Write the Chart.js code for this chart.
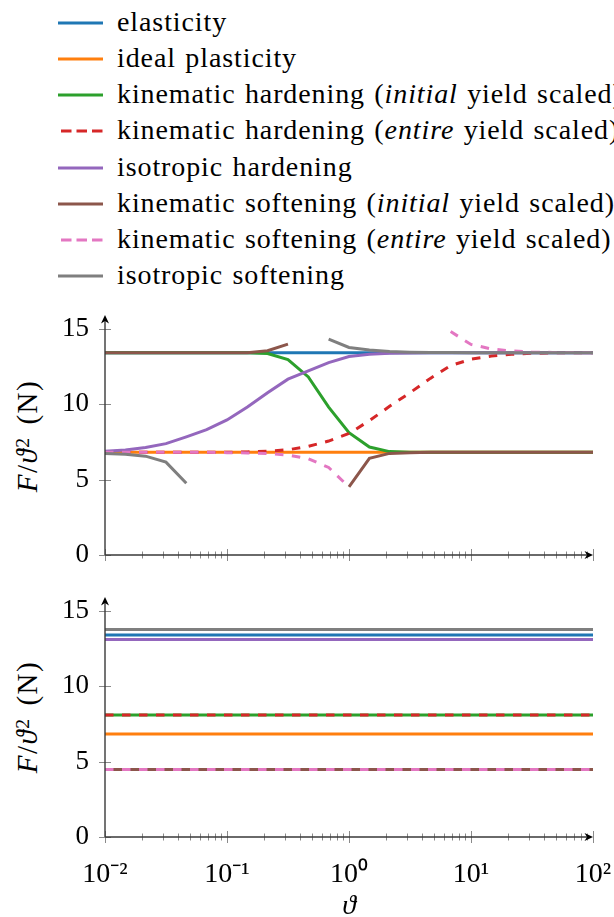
<!DOCTYPE html>
<html>
<head>
<meta charset="utf-8">
<script src="https://cdn.jsdelivr.net/npm/chart.js@4.4.1/dist/chart.umd.min.js"></script>
<style>
  html, body { margin: 0; padding: 0; background: #fff; }
  body { width: 614px; height: 917px; overflow: hidden; position: relative; color: #000; }
  .entry { position: absolute; left: 0; width: 614px; height: 36px; white-space: nowrap; }
  .entry svg { position: absolute; left: 58px; top: 15px; }
  .entry span { position: absolute; left: 117px; top: -1px; line-height: 36px; letter-spacing: 0.9px; word-spacing: 1.5px; }
  .ytitle { position: absolute; left: 27px; line-height: 1; white-space: nowrap; letter-spacing: 1.5px; word-spacing: 3px;
    transform: translate(-50%, -50%) rotate(-90deg); }
  .ytitle sup { font-size: 0.68em; vertical-align: 0; position: relative; top: -0.42em; }
  canvas { position: absolute; left: 0; }
</style>
</head>
<body>
<div id="legend"></div>
<div class="ytitle" style="top:436px"><i>F</i>/<i>ϑ</i><sup>2</sup> (N)</div>
<div class="ytitle" style="top:717px"><i>F</i>/<i>ϑ</i><sup>2</sup> (N)</div>
<canvas id="topChart" width="614" height="270" style="top:300px"></canvas>
<canvas id="bottomChart" width="614" height="337" style="top:580px"></canvas>
<script>
// sample points of the load parameter (log spaced)
const theta = [0.01, 0.0147, 0.0215, 0.0316, 0.0464, 0.0681, 0.1, 0.147, 0.215, 0.316, 0.464, 0.681,
  1, 1.47, 2.15, 3.16, 4.64, 6.81, 10, 14.7, 21.5, 31.6, 46.4, 68.1, 100];

// upper plot
const elasticity = [13.4, 13.4, 13.4, 13.4, 13.4, 13.4, 13.4, 13.4, 13.4, 13.4, 13.4, 13.4, 13.4,
  13.4, 13.4, 13.4, 13.4, 13.4, 13.4, 13.4, 13.4, 13.4, 13.4, 13.4, 13.4];
const idealPlasticity = [6.8, 6.8, 6.8, 6.8, 6.8, 6.8, 6.8, 6.8, 6.8, 6.8, 6.8, 6.8, 6.8,
  6.8, 6.8, 6.8, 6.8, 6.8, 6.8, 6.8, 6.8, 6.8, 6.8, 6.8, 6.8];
const kinHardInitial = [13.4, 13.4, 13.4, 13.4, 13.4, 13.4, 13.4, 13.4, 13.35, 12.95, 11.8, 9.8, 8.1,
  7.15, 6.85, 6.8, 6.8, 6.8, 6.8, 6.8, 6.8, 6.8, 6.8, 6.8, 6.8];
const kinHardEntire = [6.8, 6.8, 6.8, 6.8, 6.8, 6.8, 6.81, 6.83, 6.88, 6.97, 7.2, 7.55, 8.05,
  8.9, 9.85, 10.75, 11.7, 12.55, 12.97, 13.18, 13.3, 13.36, 13.39, 13.4, 13.4];
const isoHard = [6.88, 6.95, 7.12, 7.38, 7.83, 8.3, 8.95, 9.8, 10.75, 11.65, 12.2, 12.75, 13.15,
  13.3, 13.37, 13.39, 13.4, 13.4, 13.4, 13.4, 13.4, 13.4, 13.4, 13.4, 13.4];
const kinSoftInitial = [13.4, 13.4, 13.4, 13.4, 13.4, 13.4, 13.4, 13.4, 13.53, 13.97, null, null, 4.52,
  6.4, 6.73, 6.78, 6.8, 6.8, 6.8, 6.8, 6.8, 6.8, 6.8, 6.8, 6.8];
const kinSoftEntire = [6.8, 6.8, 6.8, 6.8, 6.8, 6.8, 6.78, 6.76, 6.72, 6.62, 6.38, 5.8, 4.5,
  null, null, null, null, 14.8, 13.95, 13.65, 13.52, 13.45, 13.42, 13.41, 13.4];
const isoSoft = [6.72, 6.68, 6.55, 6.15, 4.75, null, null, null, null, null, null, 14.3, 13.75,
  13.58, 13.48, 13.44, 13.42, 13.41, 13.4, 13.4, 13.4, 13.4, 13.4, 13.4, 13.4];

// lower plot (constant over the whole range)
const thetaEnds = [0.01, 100];
const elasticityB = [13.38, 13.38];
const idealPlasticityB = [6.82, 6.82];
const kinHardInitialB = [8.08, 8.08];
const kinHardEntireB = [8.08, 8.08];
const isoHardB = [13.09, 13.09];
const kinSoftInitialB = [4.48, 4.48];
const kinSoftEntireB = [4.48, 4.48];
const isoSoftB = [13.75, 13.75];

const seriesNames = ['elasticity', 'ideal plasticity', 'kinematic hardening (<i>initial</i> yield scaled)',
  'kinematic hardening (<i>entire</i> yield scaled)', 'isotropic hardening',
  'kinematic softening (<i>initial</i> yield scaled)', 'kinematic softening (<i>entire</i> yield scaled)',
  'isotropic softening'];
const seriesColors = ['#1f77b4', '#ff7f0e', '#2ca02c', '#d62728', '#9467bd', '#8c564b', '#e377c2', '#7f7f7f'];
const seriesDashed = [false, false, false, true, false, false, true, false];

const xTickValues = [0.01, 0.02, 0.03, 0.04, 0.05, 0.06, 0.07, 0.08, 0.09,
  0.1, 0.2, 0.3, 0.4, 0.5, 0.6, 0.7, 0.8, 0.9,
  1, 2, 3, 4, 5, 6, 7, 8, 9,
  10, 20, 30, 40, 50, 60, 70, 80, 90, 100];
const decadeValues = [0.01, 0.1, 1, 10, 100];
const decadeLabels = ['10⁻²', '10⁻¹', '10⁰', '10¹', '10²'];
const yTickValues = [0, 5, 10, 15];

// pick the first serif face that is really installed
function hasFont(name) {
  const c = document.createElement('canvas').getContext('2d');
  const probe = 'mmmmmmwwwwwlli ideal plasticity 0123';
  c.font = '40px monospace';
  const a = c.measureText(probe).width;
  c.font = '40px "' + name + '", monospace';
  const b = c.measureText(probe).width;
  c.font = '40px sans-serif';
  const d = c.measureText(probe).width;
  c.font = '40px "' + name + '", sans-serif';
  const e = c.measureText(probe).width;
  return a !== b || d !== e;
}
const serifCandidates = ['Liberation Serif', 'Times New Roman', 'Tinos', 'DejaVu Serif', 'Noto Serif', 'FreeSerif', 'Nimbus Roman'];
const serifName = serifCandidates.find(hasFont) || 'serif';
const serif = '"' + serifName + '", serif';
const baseSize = serifName === 'DejaVu Serif' ? 23 : (serifName === 'Noto Serif' ? 24 : 28);
document.body.style.fontFamily = serif;
document.querySelectorAll('.ytitle').forEach(el => { el.style.fontSize = (baseSize + 1) + 'px'; });

// legend above both plots
const legend = document.getElementById('legend');
seriesNames.forEach((name, i) => {
  const row = document.createElement('div');
  row.className = 'entry';
  row.style.top = (22.7 + 36.2 * i - 18) + 'px';
  const x1 = seriesDashed[i] ? 3 : 0;
  row.innerHTML = '<svg width="46" height="6"><line x1="' + x1 + '" y1="3" x2="45" y2="3" stroke="' + seriesColors[i] +
    '" stroke-width="3"' + (seriesDashed[i] ? ' stroke-dasharray="10.5 5"' : '') + '/></svg><span style="font-size:' +
    baseSize + 'px">' + name + '</span>';
  legend.appendChild(row);
});

// pgfplots style axis lines: arrows and ticks crossing the axis
const axesPlugin = {
  id: 'pgfAxes',
  afterDraw(chart) {
    const ctx = chart.ctx, a = chart.chartArea, xs = chart.scales.x, ys = chart.scales.y;
    ctx.save();
    ctx.strokeStyle = '#8a8a8a';
    ctx.lineWidth = 1;
    ctx.beginPath();
    xs.ticks.forEach(t => {
      const px = Math.round(xs.getPixelForValue(t.value)) + 0.5;
      const len = decadeValues.includes(t.value) ? 6 : 3.5;
      ctx.moveTo(px, a.bottom - len);
      ctx.lineTo(px, a.bottom + len);
    });
    ys.ticks.forEach(t => {
      const py = Math.round(ys.getPixelForValue(t.value)) + 0.5;
      ctx.moveTo(a.left - 6, py);
      ctx.lineTo(a.left + 6, py);
    });
    ctx.stroke();

    ctx.strokeStyle = '#3a3a3a';
    ctx.lineWidth = 1.4;
    ctx.beginPath();
    ctx.moveTo(a.left, a.bottom);
    ctx.lineTo(a.right - 4, a.bottom);
    ctx.moveTo(a.left, a.bottom);
    ctx.lineTo(a.left, a.top + 4);
    ctx.stroke();

    ctx.fillStyle = '#000';
    ctx.beginPath();
    ctx.moveTo(a.right, a.bottom);
    ctx.lineTo(a.right - 8.5, a.bottom - 4);
    ctx.lineTo(a.right - 6, a.bottom);
    ctx.lineTo(a.right - 8.5, a.bottom + 4);
    ctx.closePath();
    ctx.moveTo(a.left, a.top);
    ctx.lineTo(a.left - 4, a.top + 8.5);
    ctx.lineTo(a.left, a.top + 6);
    ctx.lineTo(a.left + 4, a.top + 8.5);
    ctx.closePath();
    ctx.fill();
    ctx.restore();
  }
};

function buildDatasets(xs, ys) {
  return ys.map((vals, i) => ({
    label: seriesNames[i],
    data: xs.map((x, j) => ({x: x, y: vals[j]})),
    borderColor: seriesColors[i],
    backgroundColor: seriesColors[i],
    borderWidth: 3,
    borderDash: seriesDashed[i] ? [8.5, 8.5] : [],
    pointRadius: 0,
    tension: 0,
    spanGaps: false,
    fill: false,
    order: ys.length - 1 - i
  }));
}

function makeChart(id, datasets, showLabels, padTop, xHeight) {
  return new Chart(id, {
    type: 'line',
    data: {datasets: datasets},
    plugins: [axesPlugin],
    options: {
      responsive: false,
      animation: false,
      layout: {padding: {left: 0, right: 21, top: padTop, bottom: 0}},
      plugins: {legend: {display: false}, tooltip: {enabled: false}},
      scales: {
        x: {
          type: 'logarithmic',
          min: 0.01,
          max: 100,
          afterBuildTicks: s => { s.ticks = xTickValues.map(v => ({value: v})); },
          afterFit: s => { s.height = xHeight; s.paddingLeft = 0; s.paddingRight = 0; },
          grid: {display: false, drawTicks: false},
          border: {display: false},
          ticks: {
            autoSkip: false,
            maxRotation: 0,
            minRotation: 0,
            padding: 21,
            color: '#000',
            font: {family: serif, size: baseSize},
            callback: v => {
              if (!showLabels) return '';
              const k = decadeValues.indexOf(v);
              return k >= 0 ? decadeLabels[k] : '';
            }
          },
          title: {
            display: showLabels,
            text: 'ϑ',
            color: '#000',
            font: {family: serif, size: baseSize, style: 'italic', lineHeight: 1},
            padding: {top: 0, bottom: -4}
          }
        },
        y: {
          type: 'linear',
          min: 0,
          max: 15.9,
          afterBuildTicks: s => { s.ticks = yTickValues.map(v => ({value: v})); },
          afterFit: s => { s.width = 105; s.paddingTop = 0; s.paddingBottom = 0; },
          grid: {display: false, drawTicks: false},
          border: {display: false},
          ticks: {padding: 16, color: '#000', font: {family: serif, size: baseSize - 1}}
        }
      }
    }
  });
}

makeChart('topChart', buildDatasets(theta, [elasticity, idealPlasticity, kinHardInitial, kinHardEntire,
  isoHard, kinSoftInitial, kinSoftEntire, isoSoft]), false, 15, 15);
makeChart('bottomChart', buildDatasets(thetaEnds, [elasticityB, idealPlasticityB, kinHardInitialB, kinHardEntireB,
  isoHardB, kinSoftInitialB, kinSoftEntireB, isoSoftB]), true, 17, 80);
</script>
</body>
</html>
